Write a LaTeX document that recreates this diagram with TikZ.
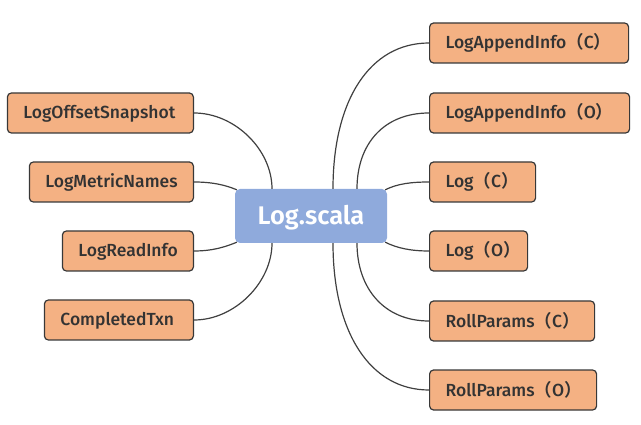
\documentclass[tikz,border=0pt]{standalone}
\usepackage{fontspec}
\setmainfont{Fira Sans}[BoldFont=* Medium]
\newfontfamily\rootfont{Fira Sans}[UprightFont=* SemiBold]
\newfontfamily\cjk{Noto Sans CJK SC}[BoldFont=* Bold]
\newcommand{\lp}{{\cjk （}}
\newcommand{\rp}{{\cjk ）}}
\begin{document}
\begin{tikzpicture}[x=1pt,y=-1pt,
  leaf/.style={draw=black!78, line width=1.2pt, fill=leaforange,
    rounded corners=4pt, minimum height=40pt, inner xsep=16pt, inner ysep=0pt,
    text width=#1-32pt, minimum width=#1, align=left,
    text height=12pt, text depth=0pt,
    font=\fontsize{17.5}{20}\selectfont\bfseries, text=black!80},
  root/.style={fill=rootblue, rounded corners=5pt, minimum width=152pt, minimum height=54pt,
    inner sep=0pt, text height=18pt, text depth=0pt,
    font=\fontsize{25.5}{30}\selectfont\rootfont, text=white},
  link/.style={draw=black!75, line width=1.2pt}]
\definecolor{leaforange}{HTML}{F4B183}
\definecolor{rootblue}{HTML}{8FAADC}
\useasboundingbox (0,0) rectangle (641,425);

% central topic
\node[root] (c) at (311,216) {Log.scala};

% left branch
\node[leaf=186pt, anchor=east] (los) at (194,113) {LogOffsetSnapshot};
\node[leaf=164pt, anchor=east] (lmn) at (194,182) {LogMetricNames};
\node[leaf=131pt, anchor=east] (lri) at (194,251) {LogReadInfo};
\node[leaf=149pt, anchor=east] (ctx) at (194,320) {CompletedTxn};

% right branch
\node[leaf=199pt, anchor=west] (laic) at (429,43) {LogAppendInfo\lp C\rp};
\node[leaf=200pt, anchor=west] (laio) at (429,113) {LogAppendInfo\lp O\rp};
\node[leaf=106pt, anchor=west] (logc) at (429,182) {Log\lp C\rp};
\node[leaf=98pt, anchor=west] (logo) at (429,251) {Log\lp O\rp};
\node[leaf=165pt, anchor=west] (rpc) at (429,321) {RollParams\lp C\rp};
\node[leaf=167pt, anchor=west] (rpo) at (429,390) {RollParams\lp O\rp};

% connectors, left side
\draw[link] ([xshift=-39pt]c.north) .. controls +(0,-39) and +(41,0) .. (los.east);
\draw[link] ([shift={(2,1)}]c.north west) .. controls +(-12,-5) and +(18,0) .. (lmn.east);
\draw[link] ([shift={(2,-1)}]c.south west) .. controls +(-12,5) and +(18,0) .. (lri.east);
\draw[link] ([xshift=-39pt]c.south) .. controls +(0,39) and +(41,0) .. (ctx.east);

% connectors, right side
\draw[link] ([xshift=22pt]c.north) .. controls +(0,-89) and +(-59,0) .. (laic.west);
\draw[link] ([xshift=46pt]c.north) .. controls +(0,-45) and +(-45,0) .. (laio.west);
\draw[link] ([shift={(-2,1)}]c.north east) .. controls +(12,-6) and +(-18,0) .. (logc.west);
\draw[link] ([shift={(-2,-1)}]c.south east) .. controls +(12,6) and +(-18,0) .. (logo.west);
\draw[link] ([xshift=46pt]c.south) .. controls +(0,45) and +(-45,0) .. (rpc.west);
\draw[link] ([xshift=22pt]c.south) .. controls +(0,89) and +(-59,0) .. (rpo.west);
\end{tikzpicture}
\end{document}
